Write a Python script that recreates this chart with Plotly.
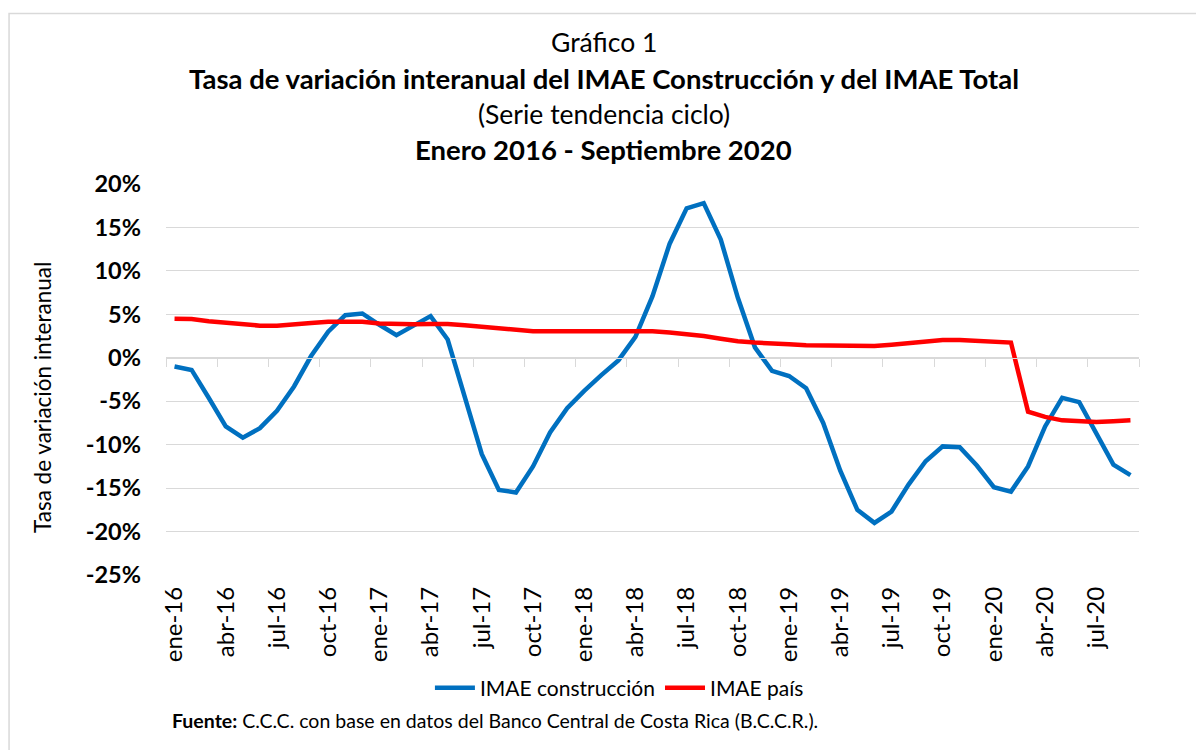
import plotly.graph_objects as go

meses = ["ene", "feb", "mar", "abr", "may", "jun", "jul", "ago", "sep", "oct", "nov", "dic"]
fechas = [f"{meses[m]}-{y % 100:02d}" for y in range(2016, 2021) for m in range(12)][:57]

imae_construccion = [
    -1.0, -1.4, -4.6, -7.9, -9.2, -8.1, -6.1, -3.3, 0.2, 3.0, 4.9, 5.1,
    3.8, 2.6, 3.7, 4.8, 2.1, -4.6, -11.1, -15.2, -15.5, -12.5, -8.6, -5.8,
    -3.8, -2.0, -0.3, 2.4, 7.1, 13.1, 17.2, 17.8, 13.6, 6.9, 1.2, -1.5,
    -2.1, -3.5, -7.5, -13.0, -17.5, -19.0, -17.7, -14.6, -11.9, -10.2, -10.3, -12.4,
    -14.9, -15.4, -12.5, -7.9, -4.6, -5.1, -8.6, -12.3, -13.5,
]
imae_pais = [
    4.5, 4.45, 4.2, 4.05, 3.85, 3.7, 3.7, 3.8, 4.0, 4.15, 4.2, 4.15,
    3.95, 3.85, 3.85, 3.9, 3.9, 3.75, 3.55, 3.35, 3.2, 3.05, 3.05, 3.05,
    3.05, 3.05, 3.05, 3.05, 3.05, 2.9, 2.75, 2.5, 2.2, 1.9, 1.75, 1.6,
    1.55, 1.45, 1.4, 1.35, 1.3, 1.35, 1.5, 1.7, 1.9, 2.05, 2.05, 1.95,
    1.85, 1.75, -6.2, -6.8, -7.2, -7.35, -7.4, -7.3, -7.2,
]
y_ticks = [20, 15, 10, 5, 0, -5, -10, -15, -20, -25]

FONT = "Lato"
x_idx = list(range(len(fechas)))

fig = go.Figure()
fig.add_trace(go.Scatter(x=x_idx, y=imae_construccion, mode="lines", name="IMAE construcción",
                         line=dict(color="#0070C0", width=4.5), hoverinfo="skip"))
fig.add_trace(go.Scatter(x=x_idx, y=imae_pais, mode="lines", name="IMAE país",
                         line=dict(color="#FF0000", width=4.5), hoverinfo="skip"))
fig.add_trace(go.Scatter(x=[], y=[], xaxis="x2", showlegend=False, hoverinfo="skip"))

tick_idx = x_idx[::3]
bound_vals = [i - 0.5 for i in range(0, len(fechas) + 1, 3)]
fig.update_layout(
    width=1204, height=750,
    margin=dict(l=158, r=73, t=176, b=183),
    paper_bgcolor="white", plot_bgcolor="white",
    font=dict(family=FONT, color="black"),
    xaxis=dict(range=[-0.5, len(fechas) - 0.5], tickvals=tick_idx,
               ticktext=[fechas[i] for i in tick_idx], tickangle=-90,
               tickfont=dict(size=24, family=FONT), showgrid=False, zeroline=False,
               showline=False, ticks="", ticklabelstandoff=6),
    xaxis2=dict(overlaying="x", anchor="free", position=25 / 45,
                range=[-0.5, len(fechas) - 0.5], tickvals=bound_vals, ticks="outside",
                ticklen=8, tickcolor="#d9d9d9", tickwidth=1.3, showticklabels=False,
                showline=True, linecolor="#d9d9d9", linewidth=1.3, showgrid=False, zeroline=False),
    yaxis=dict(range=[-25, 20], tickvals=y_ticks, ticktext=[f"{v}%" for v in y_ticks],
               tickfont=dict(size=23.5, family=FONT, weight="bold"),
               showgrid=True, gridcolor="#d9d9d9", gridwidth=1.3, zeroline=False,
               showline=False, ticks="", ticklabelstandoff=24),
    legend=dict(orientation="h", x=0.466, y=-0.289, xanchor="center", yanchor="middle",
                font=dict(size=21, family=FONT), itemwidth=40, bgcolor="rgba(0,0,0,0)"),
    showlegend=True,
)

titles = [
    ("Gráfico 1", 1.363, 26.5),
    ("<b>Tasa de variación interanual del IMAE Construcción y del IMAE Total</b>", 1.271, 27.5),
    ("(Serie tendencia ciclo)", 1.179, 26.5),
    ("<b>Enero 2016 - Septiembre 2020</b>", 1.088, 27.5),
]
for text, yp, size in titles:
    fig.add_annotation(text=text, x=0.450, y=yp, xref="paper", yref="paper",
                       xanchor="center", yanchor="middle", showarrow=False,
                       font=dict(size=size, family=FONT))

fig.add_annotation(text="Tasa de variación interanual", x=-0.1264, y=0.4527, xref="paper", yref="paper",
                   textangle=-90, xanchor="center", yanchor="middle", showarrow=False,
                   font=dict(size=22.5, family=FONT))
fig.add_annotation(text="<b>Fuente:</b> C.C.C. con base en datos del Banco Central de Costa Rica (B.C.C.R.).",
                   x=0.004, y=-0.371, xref="paper", yref="paper", xanchor="left", yanchor="middle",
                   showarrow=False, font=dict(size=19.5, family=FONT))

fig.add_shape(type="rect", xref="paper", yref="paper", x0=-0.1613, x1=1.1, y0=-0.55, y1=1.436,
              line=dict(color="#d9d9d9", width=1.5), fillcolor="rgba(0,0,0,0)", layer="below")

fig.write_html("out.html")
